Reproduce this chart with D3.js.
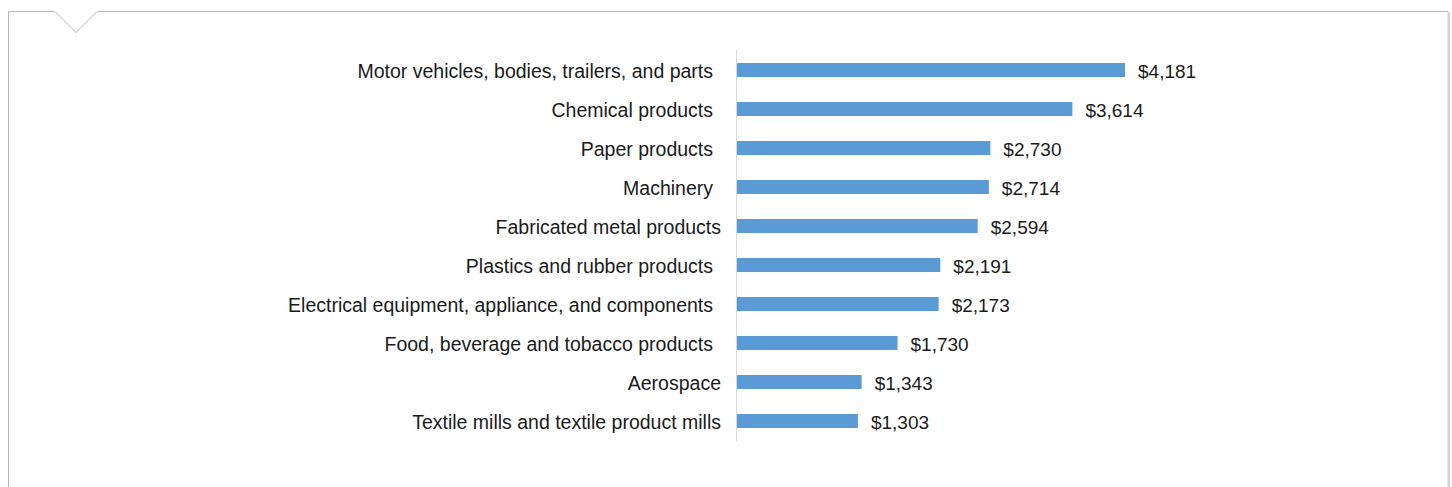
<!DOCTYPE html>
<html>
<head>
<meta charset="utf-8">
<script src="https://cdn.jsdelivr.net/npm/d3@7"></script>
<style>
  body { margin: 0; background: #fff; }
  svg text { font-family: "Liberation Sans", Arial, Helvetica, sans-serif; fill: #1a1a1a; }
</style>
</head>
<body>
<svg id="chart" width="1452" height="487"></svg>
<script>
// category labels (some carry a trailing space, as in the source)
const categories = [
  "Motor vehicles, bodies, trailers, and parts ",
  "Chemical products ",
  "Paper products ",
  "Machinery ",
  "Fabricated metal products",
  "Plastics and rubber products ",
  "Electrical equipment, appliance, and components ",
  "Food, beverage and tobacco products ",
  "Aerospace",
  "Textile mills and textile product mills"
];
const values = [4181, 3614, 2730, 2714, 2594, 2191, 2173, 1730, 1343, 1303];

const svg = d3.select("#chart");

// panel frame with the little notch at top left
const frame = d3.line();
svg.append("path")
  .attr("d", frame([[8.5, 487], [8.5, 11.5], [55, 11.5], [76, 32.5], [97, 11.5], [1448, 11.5]]))
  .attr("fill", "none")
  .attr("stroke", "#b8b8b8")
  .attr("stroke-width", 1);

svg.append("rect")
  .attr("x", 1447.5)
  .attr("y", 12)
  .attr("width", 2.5)
  .attr("height", 475)
  .attr("fill", "#d4d4d4");

const x0 = 737;
const x = d3.scaleLinear()
  .domain([0, 4181])
  .range([x0, 1125]);

const y = d3.scaleBand()
  .domain(categories)
  .range([50.5, 440.5])
  .paddingInner(0.64)
  .paddingOuter(0.32);

// category axis line
svg.append("line")
  .attr("x1", x0 - 0.5)
  .attr("x2", x0 - 0.5)
  .attr("y1", 50)
  .attr("y2", 441)
  .attr("stroke", "#d9d9d9")
  .attr("stroke-width", 1);

svg.selectAll("rect.bar")
  .data(values)
  .enter()
  .append("rect")
  .attr("class", "bar")
  .attr("x", x(0))
  .attr("y", (d, i) => y(categories[i]))
  .attr("width", (d) => x(d) - x(0))
  .attr("height", y.bandwidth())
  .attr("fill", "#5b9bd5");

// labels with a trailing space end a little further left
svg.selectAll("text.cat")
  .data(categories)
  .enter()
  .append("text")
  .attr("class", "cat")
  .attr("x", (d) => d.endsWith(" ") ? 713 : 721)
  .attr("y", (d) => y(d) + y.bandwidth() / 2)
  .attr("dy", "0.4em")
  .attr("text-anchor", "end")
  .style("font-size", "19.5px")
  .text((d) => d.trim());

const fmt = d3.format(",");
svg.selectAll("text.val")
  .data(values)
  .enter()
  .append("text")
  .attr("class", "val")
  .attr("x", (d) => x(d) + 13)
  .attr("y", (d, i) => y(categories[i]) + y.bandwidth() / 2)
  .attr("dy", "0.4em")
  .style("font-size", "19px")
  .text((d) => "$" + fmt(d));
</script>
</body>
</html>
